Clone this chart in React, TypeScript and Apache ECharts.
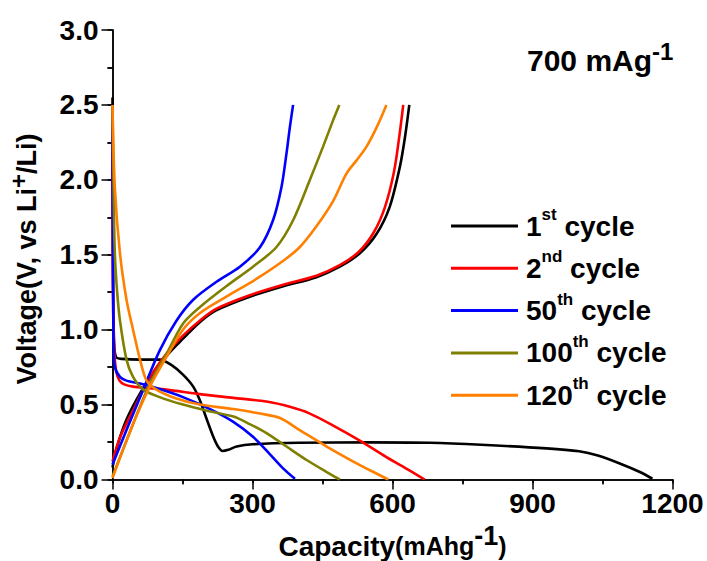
import React, { useEffect, useRef } from "react";
import * as echarts from "echarts";

// Capacity (mAh/g), Voltage (V) pairs
const cycle1Discharge: [number, number][] = [
  [0, 2.55], [0.5, 2.0], [1, 1.5], [2, 1.1], [4, 0.88], [8, 0.815], [20, 0.805], [60, 0.8],
  [101, 0.8], [126, 0.765], [151, 0.7], [173, 0.62], [187, 0.53], [201, 0.41], [216, 0.285],
  [226, 0.22], [236, 0.19], [248, 0.198], [266, 0.22], [300, 0.235], [400, 0.245], [550, 0.248],
  [680, 0.245], [790, 0.232], [930, 0.208], [1000, 0.188], [1040, 0.16], [1087, 0.107],
  [1130, 0.05], [1157, 0.005],
];
const cycle1Charge: [number, number][] = [
  [0, 0.08], [10, 0.22], [30, 0.4], [60, 0.58], [90, 0.72], [120, 0.84], [151, 0.94],
  [187, 1.05], [223, 1.13], [294, 1.22], [366, 1.29], [437, 1.35], [487, 1.42], [530, 1.51],
  [566, 1.64], [594, 1.82], [616, 2.09], [627, 2.29], [636, 2.5],
];
const cycle2Discharge: [number, number][] = [
  [0, 2.5], [0.5, 1.5], [1.5, 1.1], [4, 0.85], [8, 0.72], [15, 0.66], [25, 0.635], [44, 0.62],
  [80, 0.61], [116, 0.6], [187, 0.57], [259, 0.545], [330, 0.52], [380, 0.485], [423, 0.44],
  [473, 0.36], [530, 0.26], [587, 0.15], [637, 0.06], [669, 0.0],
];
const cycle2Charge: [number, number][] = [
  [0, 0.12], [16, 0.28], [44, 0.46], [80, 0.68], [116, 0.84], [151, 0.96], [187, 1.06],
  [223, 1.14], [294, 1.23], [366, 1.3], [437, 1.36], [487, 1.43], [528, 1.52], [560, 1.65],
  [584, 1.82], [603, 2.05], [615, 2.3], [623, 2.5],
];
const cycle50Discharge: [number, number][] = [
  [0, 2.5], [0.5, 1.8], [1.5, 1.2], [2.5, 0.88], [5, 0.75], [16, 0.685], [30, 0.66], [59, 0.64],
  [94, 0.61], [151, 0.55], [209, 0.47], [259, 0.385], [301, 0.285], [337, 0.17], [366, 0.073],
  [391, 0.005],
];
const cycle50Charge: [number, number][] = [
  [0, 0.1], [30, 0.33], [66, 0.6], [101, 0.86], [137, 1.06], [173, 1.2], [223, 1.32],
  [273, 1.42], [316, 1.55], [344, 1.73], [362, 1.95], [373, 2.18], [380, 2.35], [387, 2.5],
];
const cycle100Discharge: [number, number][] = [
  [0, 2.5], [2, 2.0], [5, 1.51], [10, 1.25], [16, 1.06], [30, 0.8], [44, 0.685], [66, 0.6],
  [101, 0.55], [151, 0.5], [201, 0.46], [259, 0.42], [294, 0.37], [330, 0.31], [373, 0.22],
  [416, 0.13], [459, 0.05], [487, 0.0],
];
const cycle100Charge: [number, number][] = [
  [0, 0.02], [44, 0.37], [80, 0.64], [116, 0.84], [151, 1.04], [187, 1.15], [244, 1.29],
  [301, 1.42], [351, 1.55], [387, 1.73], [423, 2.0], [451, 2.22], [473, 2.4], [486, 2.5],
];
const cycle120Discharge: [number, number][] = [
  [0, 2.5], [5, 1.95], [16, 1.51], [30, 1.2], [44, 1.0], [59, 0.8], [73, 0.66], [94, 0.6],
  [137, 0.54], [187, 0.5], [259, 0.47], [316, 0.44], [359, 0.41], [401, 0.33], [459, 0.22],
  [516, 0.12], [559, 0.05], [591, 0.0],
];
const cycle120Charge: [number, number][] = [
  [0, 0.01], [44, 0.37], [80, 0.62], [116, 0.82], [151, 1.0], [187, 1.11], [244, 1.22],
  [309, 1.34], [366, 1.46], [401, 1.55], [437, 1.69], [473, 1.86], [501, 2.04], [523, 2.13],
  [544, 2.22], [566, 2.35], [587, 2.5],
];

const cycleNames = ["1st cycle", "2nd cycle", "50th cycle", "100th cycle", "120th cycle"];
const cycleNumbers = ["1", "2", "50", "100", "120"];
const cycleSuffixes = ["st", "nd", "th", "th", "th"];
const cycleColors = ["#000000", "#ff0000", "#0000ff", "#808000", "#ff8000"];
const cycleData = [
  [cycle1Discharge, cycle1Charge],
  [cycle2Discharge, cycle2Charge],
  [cycle50Discharge, cycle50Charge],
  [cycle100Discharge, cycle100Charge],
  [cycle120Discharge, cycle120Charge],
];

const xTicks = [0, 300, 600, 900, 1200];
const yTicks = [0, 0.5, 1.0, 1.5, 2.0, 2.5, 3.0];

const FONT = "'Liberation Sans', Arial, sans-serif";

export default function App() {
  const ref = useRef<HTMLDivElement>(null);
  useEffect(() => {
    if (!ref.current) return;
    const chart = echarts.init(ref.current, null, { renderer: "svg" });
    const series: any[] = [];
    cycleData.forEach((pair, i) => {
      pair.forEach((d) => {
        series.push({
          type: "line",
          name: cycleNames[i],
          data: d,
          xAxisIndex: 0,
          yAxisIndex: 0,
          showSymbol: false,
          symbol: "none",
          smooth: 0.3,
          lineStyle: { color: cycleColors[i], width: 2.6 },
          itemStyle: { color: cycleColors[i] },
          z: 2 + i,
        });
      });
    });
    const axisLine = { show: true, lineStyle: { color: "#000", width: 1.5 } };
    const labelStyle = { fontFamily: FONT, fontSize: 28, fontWeight: "bold", color: "#000" };
    chart.setOption({
      animation: false,
      backgroundColor: "#fff",
      title: {
        text: "{a|700 mAg}{s|-1}",
        left: 527,
        top: 39,
        padding: 0,
        textStyle: {
          rich: {
            a: { fontFamily: FONT, fontSize: 30, fontWeight: "bold", color: "#000", lineHeight: 43 },
            s: { fontFamily: FONT, fontSize: 24, fontWeight: "bold", color: "#000", verticalAlign: "top" },
          },
        },
      },
      legend: {
        orient: "vertical",
        left: 451,
        top: 206,
        icon: "rect",
        itemWidth: 67,
        itemHeight: 3,
        itemGap: 8.3,
        padding: 0,
        data: cycleNames,
        selectedMode: false,
        formatter: (name: string) => {
          const i = cycleNames.indexOf(name);
          return `{n|${cycleNumbers[i]}}{s|${cycleSuffixes[i]}}{n| cycle}`;
        },
        textStyle: {
          padding: [0, 0, 0, 3],
          rich: {
            n: { fontFamily: FONT, fontSize: 28, fontWeight: "bold", color: "#000", lineHeight: 40 },
            s: { fontFamily: FONT, fontSize: 17, fontWeight: "bold", color: "#000", verticalAlign: "top" },
          },
        },
      },
      grid: { left: 112.5, right: 34.5, top: 30, bottom: 81.5, containLabel: false, outerBoundsMode: "none" },
      xAxis: [
        {
          type: "value",
          position: "bottom",
          min: xTicks[0],
          max: xTicks[xTicks.length - 1],
          interval: 300,
          axisLine,
          axisTick: { show: true, inside: false, length: 10, lineStyle: { color: "#000", width: 1.5 } },
          minorTick: { show: true, splitNumber: 2, length: 5, lineStyle: { color: "#000", width: 1.5 } },
          axisLabel: { ...labelStyle, margin: 10, formatter: (v: number) => String(v) },
          splitLine: { show: false },
          name: "{a|Capacity}{b|(mAhg}{s|-1}{b|)}",
          nameLocation: "middle",
          nameGap: 35.5,
          nameTextStyle: {
            rich: {
              a: { fontFamily: FONT, fontSize: 28, fontWeight: "bold", color: "#000", lineHeight: 48 },
              b: { fontFamily: FONT, fontSize: 25, fontWeight: "bold", color: "#000", lineHeight: 48 },
              s: { fontFamily: FONT, fontSize: 27, fontWeight: "bold", color: "#000", verticalAlign: "top" },
            },
          },
        },
        {
          type: "value",
          position: "top",
          min: 0,
          max: 1200,
          interval: 150,
          axisLine,
          axisTick: { show: true, inside: true, length: 4, lineStyle: { color: "#000", width: 1.5 } },
          axisLabel: { show: false },
          splitLine: { show: false },
        },
      ],
      yAxis: [
        {
          type: "value",
          position: "left",
          min: yTicks[0],
          max: yTicks[yTicks.length - 1],
          interval: 0.5,
          axisLine,
          axisTick: { show: true, inside: false, length: 11, lineStyle: { color: "#000", width: 1.5 } },
          minorTick: { show: true, splitNumber: 2, length: 5, lineStyle: { color: "#000", width: 1.5 } },
          axisLabel: { ...labelStyle, margin: 14, formatter: (v: number) => v.toFixed(1) },
          splitLine: { show: false },
        },
        {
          type: "value",
          position: "right",
          min: 0,
          max: 3,
          interval: 0.25,
          axisLine,
          axisTick: { show: true, inside: true, length: 5, lineStyle: { color: "#000", width: 1.5 } },
          axisLabel: { show: false },
          splitLine: { show: false },
        },
      ],
      graphic: [
        {
          type: "text",
          x: 27,
          y: 259,
          rotation: Math.PI / 2,
          style: {
            text: "{a|Voltage(V, vs Li}{s|+}{a|/Li)}",
            align: "center",
            verticalAlign: "middle",
            rich: {
              a: { fontFamily: FONT, fontSize: 27, fontWeight: "bold", fill: "#000", lineHeight: 41 },
              s: { fontFamily: FONT, fontSize: 24, fontWeight: "bold", fill: "#000", verticalAlign: "top" },
            },
          },
        },
      ],
      series,
    });
    return () => chart.dispose();
  }, []);
  return (
    <div
      ref={ref}
      style={{ position: "fixed", left: 0, top: 0, width: 707, height: 561, overflow: "hidden" }}
    />
  );
}
